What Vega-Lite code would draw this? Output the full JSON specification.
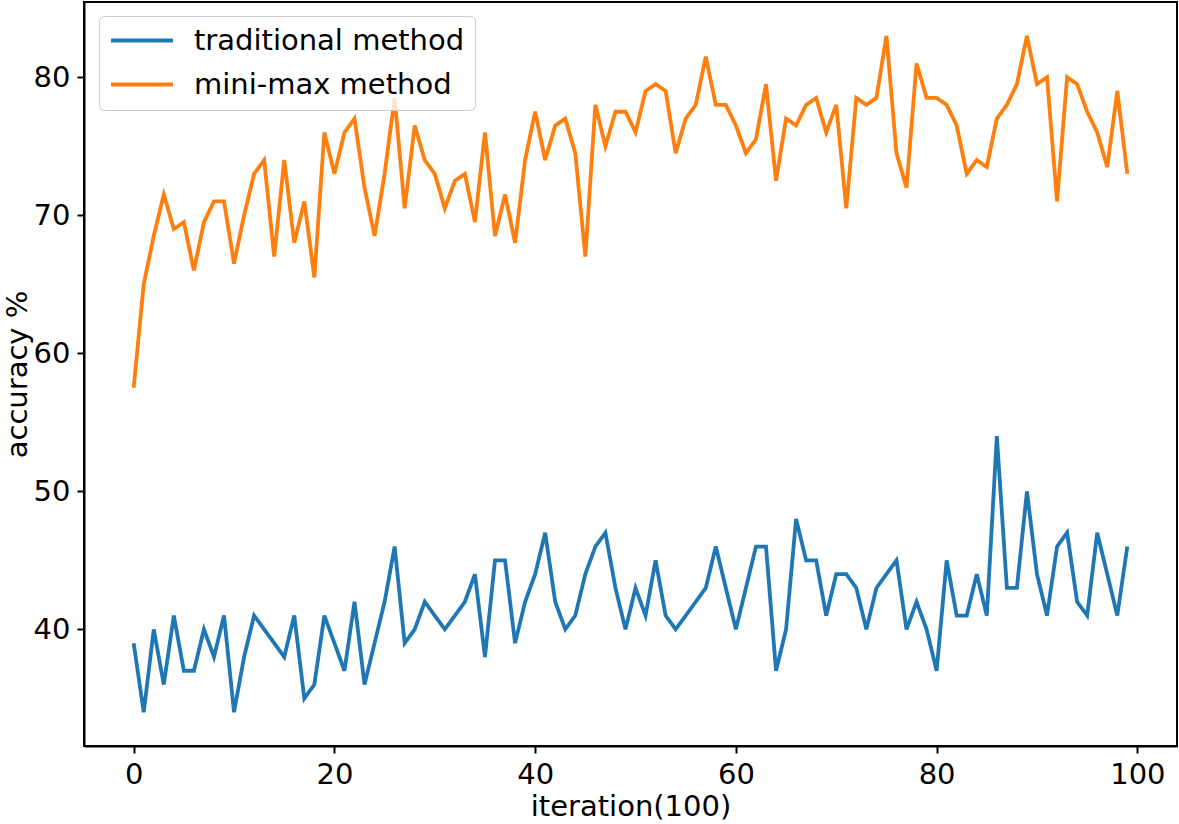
{
  "$schema": "https://vega.github.io/schema/vega-lite/v6.json",
  "width": 1093,
  "height": 744,
  "autosize": {"type": "none"},
  "padding": {"left": 84, "top": 2, "right": 2, "bottom": 78},
  "background": "white",
  "config": {
    "font": "DejaVu Sans",
    "view": {"stroke": "black", "strokeWidth": 2},
    "axis": {
      "grid": false,
      "domainColor": "black",
      "domainWidth": 2,
      "tickColor": "black",
      "tickWidth": 2,
      "tickSize": 7,
      "labelFont": "DejaVu Sans",
      "labelFontSize": 29,
      "labelColor": "black",
      "labelPadding": 7,
      "titleFont": "DejaVu Sans",
      "titleFontSize": 29,
      "titleFontWeight": "normal",
      "titleColor": "black"
    }
  },
  "data": {
    "values": [
      {"iteration":0,"traditional method":39,"mini-max method":57.5},
      {"iteration":1,"traditional method":34,"mini-max method":65},
      {"iteration":2,"traditional method":40,"mini-max method":68.5},
      {"iteration":3,"traditional method":36,"mini-max method":71.5},
      {"iteration":4,"traditional method":41,"mini-max method":69},
      {"iteration":5,"traditional method":37,"mini-max method":69.5},
      {"iteration":6,"traditional method":37,"mini-max method":66},
      {"iteration":7,"traditional method":40,"mini-max method":69.5},
      {"iteration":8,"traditional method":38,"mini-max method":71},
      {"iteration":9,"traditional method":41,"mini-max method":71},
      {"iteration":10,"traditional method":34,"mini-max method":66.5},
      {"iteration":11,"traditional method":38,"mini-max method":70},
      {"iteration":12,"traditional method":41,"mini-max method":73},
      {"iteration":13,"traditional method":40,"mini-max method":74},
      {"iteration":14,"traditional method":39,"mini-max method":67},
      {"iteration":15,"traditional method":38,"mini-max method":74},
      {"iteration":16,"traditional method":41,"mini-max method":68},
      {"iteration":17,"traditional method":35,"mini-max method":71},
      {"iteration":18,"traditional method":36,"mini-max method":65.5},
      {"iteration":19,"traditional method":41,"mini-max method":76},
      {"iteration":20,"traditional method":39,"mini-max method":73},
      {"iteration":21,"traditional method":37,"mini-max method":76},
      {"iteration":22,"traditional method":42,"mini-max method":77},
      {"iteration":23,"traditional method":36,"mini-max method":72},
      {"iteration":24,"traditional method":39,"mini-max method":68.5},
      {"iteration":25,"traditional method":42,"mini-max method":73},
      {"iteration":26,"traditional method":46,"mini-max method":78.5},
      {"iteration":27,"traditional method":39,"mini-max method":70.5},
      {"iteration":28,"traditional method":40,"mini-max method":76.5},
      {"iteration":29,"traditional method":42,"mini-max method":74},
      {"iteration":30,"traditional method":41,"mini-max method":73},
      {"iteration":31,"traditional method":40,"mini-max method":70.5},
      {"iteration":32,"traditional method":41,"mini-max method":72.5},
      {"iteration":33,"traditional method":42,"mini-max method":73},
      {"iteration":34,"traditional method":44,"mini-max method":69.5},
      {"iteration":35,"traditional method":38,"mini-max method":76},
      {"iteration":36,"traditional method":45,"mini-max method":68.5},
      {"iteration":37,"traditional method":45,"mini-max method":71.5},
      {"iteration":38,"traditional method":39,"mini-max method":68},
      {"iteration":39,"traditional method":42,"mini-max method":74},
      {"iteration":40,"traditional method":44,"mini-max method":77.5},
      {"iteration":41,"traditional method":47,"mini-max method":74},
      {"iteration":42,"traditional method":42,"mini-max method":76.5},
      {"iteration":43,"traditional method":40,"mini-max method":77},
      {"iteration":44,"traditional method":41,"mini-max method":74.5},
      {"iteration":45,"traditional method":44,"mini-max method":67},
      {"iteration":46,"traditional method":46,"mini-max method":78},
      {"iteration":47,"traditional method":47,"mini-max method":75},
      {"iteration":48,"traditional method":43,"mini-max method":77.5},
      {"iteration":49,"traditional method":40,"mini-max method":77.5},
      {"iteration":50,"traditional method":43,"mini-max method":76},
      {"iteration":51,"traditional method":41,"mini-max method":79},
      {"iteration":52,"traditional method":45,"mini-max method":79.5},
      {"iteration":53,"traditional method":41,"mini-max method":79},
      {"iteration":54,"traditional method":40,"mini-max method":74.5},
      {"iteration":55,"traditional method":41,"mini-max method":77},
      {"iteration":56,"traditional method":42,"mini-max method":78},
      {"iteration":57,"traditional method":43,"mini-max method":81.5},
      {"iteration":58,"traditional method":46,"mini-max method":78},
      {"iteration":59,"traditional method":43,"mini-max method":78},
      {"iteration":60,"traditional method":40,"mini-max method":76.5},
      {"iteration":61,"traditional method":43,"mini-max method":74.5},
      {"iteration":62,"traditional method":46,"mini-max method":75.5},
      {"iteration":63,"traditional method":46,"mini-max method":79.5},
      {"iteration":64,"traditional method":37,"mini-max method":72.5},
      {"iteration":65,"traditional method":40,"mini-max method":77},
      {"iteration":66,"traditional method":48,"mini-max method":76.5},
      {"iteration":67,"traditional method":45,"mini-max method":78},
      {"iteration":68,"traditional method":45,"mini-max method":78.5},
      {"iteration":69,"traditional method":41,"mini-max method":76},
      {"iteration":70,"traditional method":44,"mini-max method":78},
      {"iteration":71,"traditional method":44,"mini-max method":70.5},
      {"iteration":72,"traditional method":43,"mini-max method":78.5},
      {"iteration":73,"traditional method":40,"mini-max method":78},
      {"iteration":74,"traditional method":43,"mini-max method":78.5},
      {"iteration":75,"traditional method":44,"mini-max method":83},
      {"iteration":76,"traditional method":45,"mini-max method":74.5},
      {"iteration":77,"traditional method":40,"mini-max method":72},
      {"iteration":78,"traditional method":42,"mini-max method":81},
      {"iteration":79,"traditional method":40,"mini-max method":78.5},
      {"iteration":80,"traditional method":37,"mini-max method":78.5},
      {"iteration":81,"traditional method":45,"mini-max method":78},
      {"iteration":82,"traditional method":41,"mini-max method":76.5},
      {"iteration":83,"traditional method":41,"mini-max method":73},
      {"iteration":84,"traditional method":44,"mini-max method":74},
      {"iteration":85,"traditional method":41,"mini-max method":73.5},
      {"iteration":86,"traditional method":54,"mini-max method":77},
      {"iteration":87,"traditional method":43,"mini-max method":78},
      {"iteration":88,"traditional method":43,"mini-max method":79.5},
      {"iteration":89,"traditional method":50,"mini-max method":83},
      {"iteration":90,"traditional method":44,"mini-max method":79.5},
      {"iteration":91,"traditional method":41,"mini-max method":80},
      {"iteration":92,"traditional method":46,"mini-max method":71},
      {"iteration":93,"traditional method":47,"mini-max method":80},
      {"iteration":94,"traditional method":42,"mini-max method":79.5},
      {"iteration":95,"traditional method":41,"mini-max method":77.5},
      {"iteration":96,"traditional method":47,"mini-max method":76},
      {"iteration":97,"traditional method":44,"mini-max method":73.5},
      {"iteration":98,"traditional method":41,"mini-max method":79},
      {"iteration":99,"traditional method":46,"mini-max method":73}
    ]
  },
  "transform": [
    {"fold": ["traditional method", "mini-max method"], "as": ["method", "accuracy"]}
  ],
  "mark": {"type": "line", "strokeWidth": 3.8, "interpolate": "linear"},
  "encoding": {
    "x": {
      "field": "iteration",
      "type": "quantitative",
      "title": "iteration(100)",
      "scale": {"domain": [-4.95, 103.95], "nice": false, "zero": false},
      "axis": {"values": [0, 20, 40, 60, 80, 100], "titlePadding": 3}
    },
    "y": {
      "field": "accuracy",
      "type": "quantitative",
      "title": "accuracy %",
      "scale": {"domain": [31.55, 85.45], "nice": false, "zero": false},
      "axis": {"values": [40, 50, 60, 70, 80], "titlePadding": 1}
    },
    "color": {
      "field": "method",
      "type": "nominal",
      "scale": {"domain": ["traditional method", "mini-max method"], "range": ["#1f77b4", "#ff7f0e"]},
      "legend": {
        "title": null,
        "orient": "none",
        "legendX": 15,
        "legendY": 14,
        "symbolType": "stroke",
        "symbolSize": 3844,
        "symbolStrokeWidth": 3.8,
        "clipHeight": 29,
        "rowPadding": 14,
        "labelFont": "DejaVu Sans",
        "labelFontSize": 29,
        "labelColor": "black",
        "labelOffset": 19,
        "padding": 10,
        "fillColor": "rgba(255,255,255,0.8)",
        "strokeColor": "#cccccc",
        "cornerRadius": 5,
        "labelLimit": 500
      }
    },
    "order": {"field": "iteration"}
  }
}
